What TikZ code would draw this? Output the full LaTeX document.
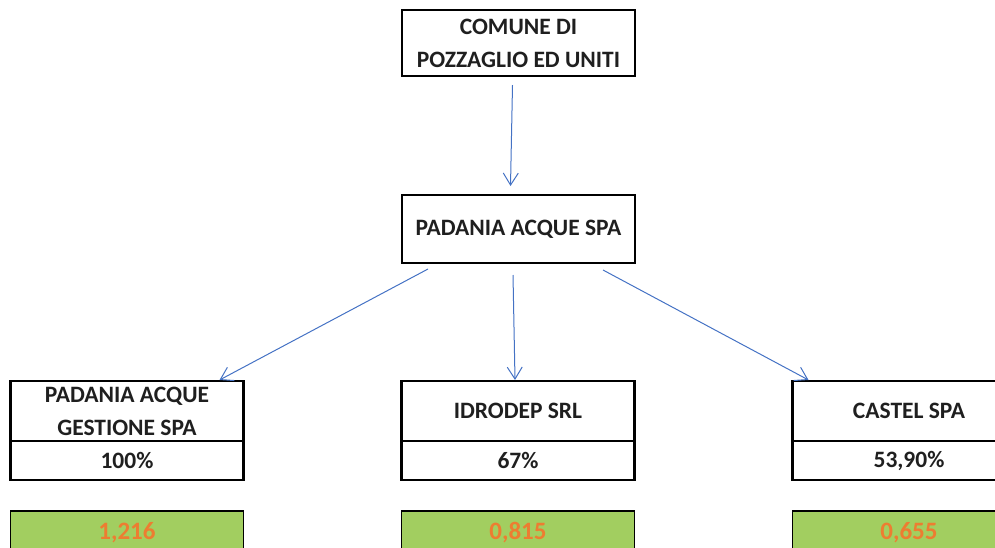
\documentclass[tikz,border=0pt]{standalone}
\usepackage{fontspec}
\setmainfont{Carlito}
\usetikzlibrary{arrows.meta,positioning,calc}
\definecolor{arrowblue}{RGB}{68,114,196}
\definecolor{cellgreen}{RGB}{162,206,96}
\definecolor{numorange}{RGB}{237,125,49}
\tikzset{
  entity/.style={draw,line width=2.2pt,align=center,inner sep=0pt,outer sep=0pt,
    font=\bfseries\fontsize{23.5}{33}\selectfont,text=black!88,minimum width=233pt},
  valuecell/.style={entity,fill=cellgreen,line width=1.6pt,text=numorange,
    font=\bfseries\fontsize{25}{30}\selectfont,minimum height=44pt},
  link/.style={arrowblue,line width=1pt,-{Straight Barb[length=12pt,width=15pt]}},
}
\begin{document}
\begin{tikzpicture}[x=1pt,y=-1pt]
  \useasboundingbox (0,0) rectangle (995,547);

  % parent companies
  \node[entity,minimum height=66pt] (comune) at (518.5,43) {COMUNE DI\\POZZAGLIO ED UNITI};
  \node[entity,minimum height=68pt] (padania) at (518.5,229) {PADANIA ACQUE SPA};

  % subsidiaries
  \node[entity,minimum height=60pt] (gestione) at (127,411) {PADANIA ACQUE\\GESTIONE SPA};
  \node[entity,minimum height=39pt,below=0pt of gestione] (gestionepct) {100\%};
  \node[valuecell,below=31pt of gestionepct] (gestioneval) {1,216};

  \node[entity,minimum height=60pt] (idrodep) at (518,411) {IDRODEP SRL};
  \node[entity,minimum height=39pt,below=0pt of idrodep] (idrodeppct) {67\%};
  \node[valuecell,below=31pt of idrodeppct] (idrodepval) {0,815};

  \node[entity,minimum height=60pt] (castel) at (909,411) {CASTEL SPA};
  \node[entity,minimum height=39pt,below=0pt of castel] (castelpct) {53,90\%};
  \node[valuecell,below=31pt of castelpct] (castelval) {0,655};

  % holdings
  \draw[link] ($(comune.south)+(-6,9)$) -- ($(padania.north)+(-8,-9)$);
  \draw[link] ($(padania.south west)+(26,6)$) -- ($(gestione.north east)+(-24,-1)$);
  \draw[link] ($(padania.south)+(-5.5,12)$) -- ($(idrodep.north)+(-3,-1)$);
  \draw[link] ($(padania.south east)+(-32,7)$) -- ($(castel.north west)+(16,-1)$);
\end{tikzpicture}
\end{document}
